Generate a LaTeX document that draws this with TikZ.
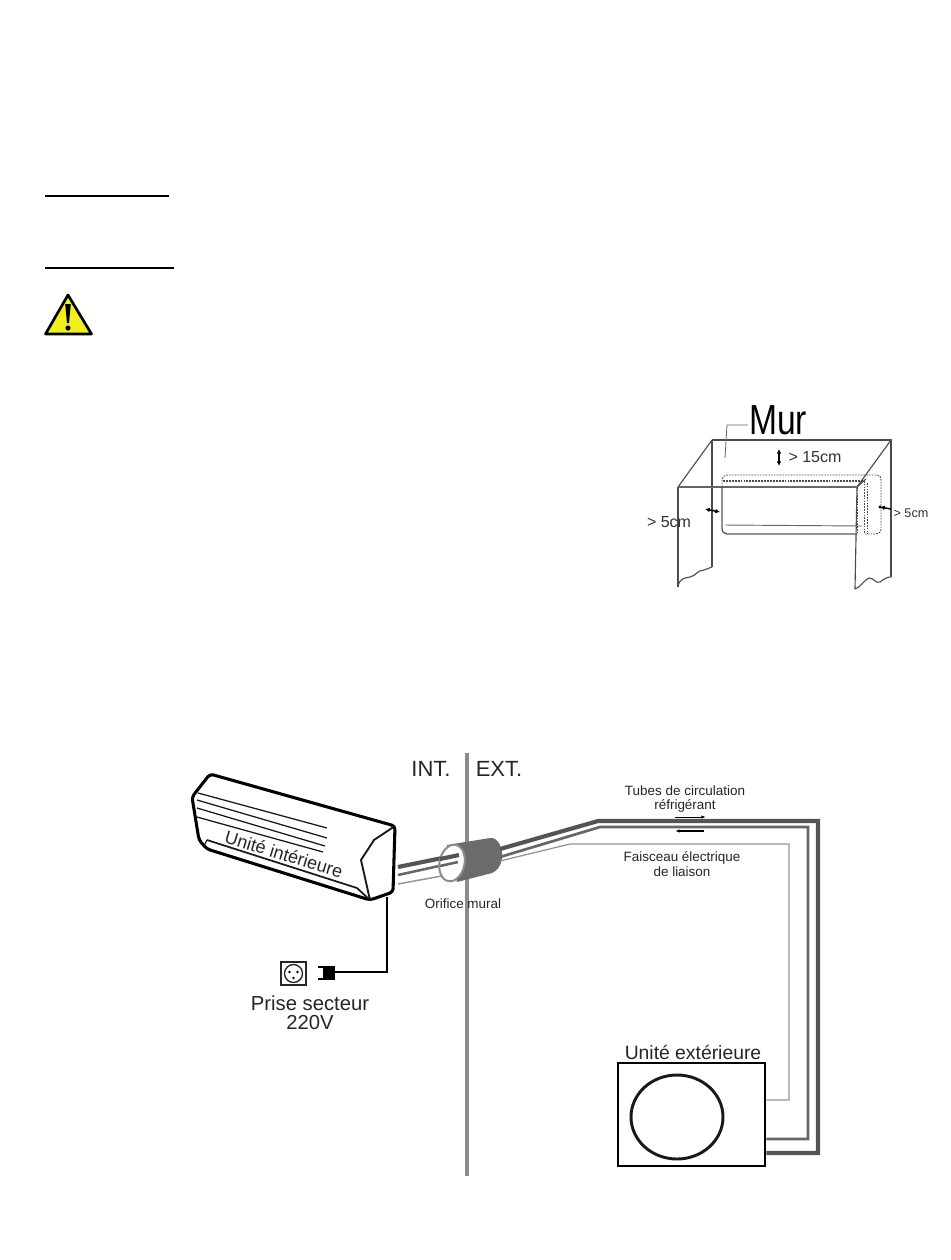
\documentclass[tikz,border=0pt]{standalone}
\usepackage{fontspec}
\setmainfont{Liberation Sans}
\usetikzlibrary{arrows.meta}
\definecolor{tubeA}{gray}{0.33}
\definecolor{tubeB}{gray}{0.40}
\definecolor{wireC}{gray}{0.58}
\definecolor{wallG}{gray}{0.55}
\definecolor{sleeve}{gray}{0.42}
\definecolor{warnY}{RGB}{240,240,30}
\tikzset{
 lbl/.style={inner sep=0pt,align=center,text=black!85,font=\fontsize{10.1pt}{11.2pt}\selectfont},
 bigl/.style={inner sep=0pt,align=center,text=black!85,font=\fontsize{16.5pt}{18pt}\selectfont},
 wal/.style={draw=black!70,line width=0.85pt},
 dash1/.style={draw=black!70,line width=0.7pt,dash pattern=on 1.2pt off 0.9pt},
 dim/.style={line width=1.1pt,{Latex[length=3.5pt,width=3.5pt]}-{Latex[length=3.5pt,width=3.5pt]}},
 unitline/.style={draw=black!90,line width=0.95pt},
 unitout/.style={draw=black,line width=2.3pt,line join=round},
 rule/.style={draw=black,line width=1.1pt}
}
\begin{document}
\begin{tikzpicture}[x=0.75pt,y=-0.75pt]
\useasboundingbox (0,0) rectangle (950,1260);
\fill[white] (0,0) rectangle (950,1260);
% rules
\coordinate (r1a) at (45,196); \coordinate (r1b) at (169,196);
\coordinate (r2a) at (45,268); \coordinate (r2b) at (174,268);
\draw[rule] (r1a) -- (r1b);
\draw[rule] (r2a) -- (r2b);
% warning
\draw[fill=warnY,line width=2pt,line join=round] (68,295) -- (91.500,334) -- (45.500,334) -- cycle;
\fill[black] (65.200,304) -- (70.800,304) -- (69,323) -- (67,323) -- cycle;
\fill[black] (68,328) circle (2.6);
% wall diagram
\draw[wal] (712,440) -- (891,440) -- (891,577);
\draw[wal] (712,440) -- (712,567);
\draw[wal] (712,440) -- (678,487);
\draw[wal] (891,440) -- (857,487);
\draw[wal] (678,487) -- (678,587);
\draw[wal] (857,487) -- (855,589);
\draw[draw=black!60,line width=1.4pt] (678,487) -- (857,487);
\draw[wal] (678,587) .. controls (679,579) and (684,578) .. (690,577) .. controls (696,576) and (697,570) .. (704,570) -- (712,567);
\draw[wal] (855,589) .. controls (860,588) and (864,580) .. (869,578) .. controls (874,578) and (876,584) .. (880,582) .. controls (885,578) and (888,577) .. (891,577);
% indoor outline in wall diagram
\draw[draw=black!65,line width=1pt] (722,487) -- (722,528) .. controls (722,532) and (724,534) .. (727,534) -- (857,534);
\draw[draw=black!60,line width=0.7pt] (725,525) -- (862,526);
\draw[dash1] (722,487) -- (722,480) .. controls (722,477) and (724,475) .. (727,475) -- (877,475) .. controls (880,475) and (881,477) .. (881,480) -- (881,528) .. controls (881,532) and (879,534) .. (876,534) -- (864,534);
\draw[draw=black!70,line width=1.2pt,dash pattern=on 1.4pt off 0.8pt] (723,481) -- (864,481);
\draw[dash1] (864,481) -- (864,534);
\draw[dash1] (867,483) -- (867,534);
\draw[wal] (857,487) -- (866,479);
\draw[dash1] (857,487) -- (857,534);
\draw[dim] (705,509) -- (720,512);
\draw[line width=1.1pt,-{Latex[length=3.5pt,width=3.5pt]}] (891,509) -- (880,507);
\fill (880,507) circle (1.7);
\draw[dim] (779,449) -- (779,466);
\draw[draw=black!60,line width=0.6pt] (748,425) -- (727,425) -- (725,458);
\node[inner sep=0pt,xscale=0.8,transform shape,font=\fontsize{31.5pt}{34pt}\selectfont] (mur) at (778,420) {Mur};
\node[inner sep=0pt,font=\fontsize{12pt}{13pt}\selectfont,text=black!80] (d15) at (815,457) {> 15cm};
\node[inner sep=0pt,font=\fontsize{12pt}{13pt}\selectfont,text=black!80] (d5l) at (669,522) {> 5cm};
\node[inner sep=0pt,font=\fontsize{9.5pt}{11pt}\selectfont,text=black!80] (d5r) at (911,513) {> 5cm};
% wall line
\coordinate (wt) at (467,753); \coordinate (wb) at (467,1176);
\draw[draw=wallG,line width=2.3pt] (wt) -- (wb);
\node[bigl] (int) at (431,769) {INT.};
\node[bigl] (ext) at (499,769) {EXT.};
% outdoor unit
\node[draw=black,line width=2.2pt,minimum width=110.25pt,minimum height=77.25pt,inner sep=0pt] (ou) at (691.500,1114.500) {};
\draw[black!90,line width=2.2pt] (677,1117) ellipse [x radius=46,y radius=42];
\node[inner sep=0pt,font=\fontsize{14.5pt}{16pt}\selectfont,text=black!85] (oul) at (693,1052) {Unité extérieure};
% pipes
\coordinate (p1) at (398,867); \coordinate (p2) at (398,875); \coordinate (p3) at (398,884);
\coordinate (s1) at (457,855); \coordinate (s2) at (457,862); \coordinate (s3) at (447,875);
\draw[tubeA,line width=3.1pt] (p1) -- (s1);
\draw[tubeB,line width=1.9pt] (p2) -- (s2);
\draw[wireC,line width=1.1pt] (p3) -- (s3);
% sleeve
\fill[sleeve] (447,845) -- (490,838) .. controls (499,837) and (503,850) .. (502,858) .. controls (501,866) and (497,871) .. (492,873) -- (457,882) -- cycle;
\draw[draw=black!45,fill=white,line width=1.5pt,rotate around={-12:(452,863)}] (452,863) ellipse [x radius=12.5,y radius=18.5];
% pipes within opening
\draw[tubeA,line width=3.1pt] (440,859) -- (459,855);
\draw[tubeB,line width=1.9pt] (440,866) -- (458,862);
\coordinate (q1) at (500,849); \coordinate (q2) at (500,857); \coordinate (q3) at (500,861);
\draw[tubeA,line width=3.1pt,miter limit=10] (q1) -- (598,821) -- (818,821) -- (818,1153) -- (ou.east |- 0,1153);
\draw[tubeB,line width=2pt] (q2) -- (600,827) -- (808,827) -- (808,1139) -- (ou.east |- 0,1139);
\draw[wireC,line width=0.95pt] (q3) -- (570,844) -- (789,844) -- (789,1100) -- (ou.east |- 0,1100);
% flow arrows
\draw[line width=0.7pt,-{Latex[length=3.5pt,width=2.5pt]}] (675,817) -- (706,817);
\draw[line width=0.9pt,-{Latex[length=3.5pt,width=2.5pt]}] (704,831) -- (675,831);
\node[lbl] (tub) at (685,799) {Tubes de circulation\\réfrigérant};
\node[lbl] (fai) at (682,864.500) {Faisceau électrique\\de liaison};
\node[lbl] (ori) at (463,904) {Orifice mural};
% indoor unit
\draw[unitout,fill=white,rounded corners=2.5pt] (210,774) -- (395,826) -- (393,892) -- (370,900) -- (207,849) -- (199,840) -- (192,797) -- cycle;
\draw[unitline,line width=1.4pt] (395,826) -- (374,840) -- (361,860) -- (370,900);
\draw[unitline,line width=1.3pt] (207,840) -- (357,888) -- (370,900);
\draw[unitline] (207,840) -- (204,846);
\draw[unitline] (198,793) -- (327,828);
\draw[unitline] (197,800) -- (327,838);
\draw[unitline] (197,808) -- (325,846);
\draw[unitline] (197,817) -- (323,852);
\node[inner sep=0pt,rotate=-17,font=\fontsize{13.5pt}{15pt}\selectfont,text=black!85] (uil) at (284,854) {Unité intérieure};
% cable and plug
\node[draw=black!85,line width=1.1pt,minimum width=18.75pt,minimum height=17.25pt,inner sep=0pt] (sock) at (293.500,973.500) {};
\draw[black!85,line width=1pt] (sock.center) circle (9);
\fill (289.500,972) circle (1.3); \fill (297.500,972) circle (1.3); \fill (293.500,978) circle (1.3);
\node[fill=black,minimum width=7.5pt,minimum height=11pt,inner sep=0pt] (plug) at (330,973) {};
\draw[line width=1.2pt] (plug.west) ++(0,-6) -- ++(-7,0);
\draw[line width=1.2pt] (plug.west) ++(0,6) -- ++(-7,0);
\draw[line width=1.2pt] (plug.west) ++(-1,-7) -- ++(0,14);
\coordinate (ctop) at (387,897);
\draw[line width=1.8pt] (ctop) -- (387,972) -- (plug.east |- 0,972);
\node[inner sep=0pt,align=center,font=\fontsize{15.2pt}{14.5pt}\selectfont,text=black!85] (pri) at (310,1012.500) {Prise secteur\\220V};
\end{tikzpicture}
\end{document}
